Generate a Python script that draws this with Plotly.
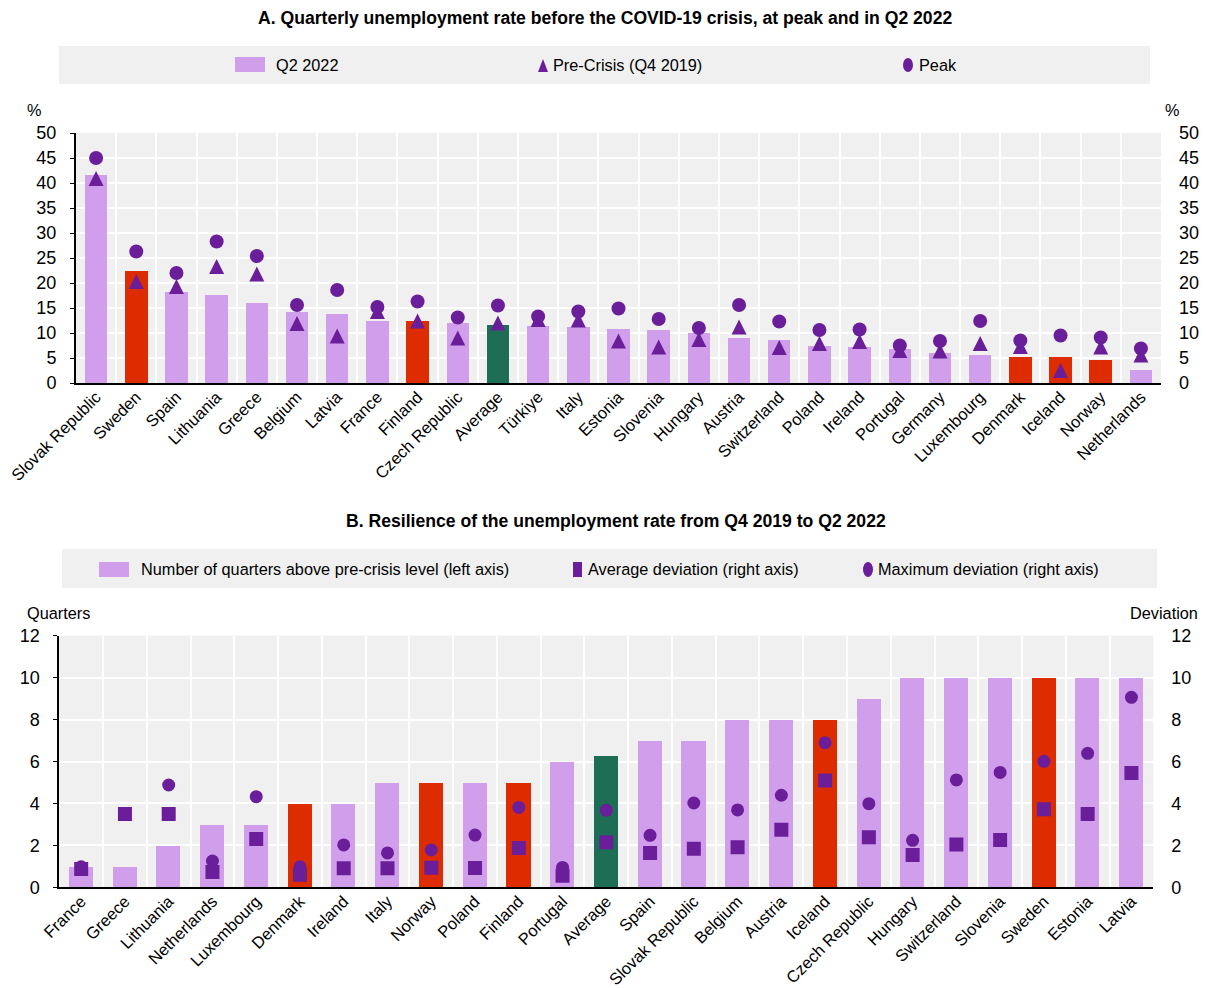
import plotly.graph_objects as go

W, H = 1206, 988
FONT = "Liberation Sans, Arial, sans-serif"

LILAC = "#D19EEC"
RED = "#DD2C00"
GREEN = "#1E6E56"
PURPLE = "#6A1E9A"
PANEL_BG = "#F0F0F0"

# ---- Panel A: quarterly unemployment rate (%) ----
a_countries = ["Slovak Republic", "Sweden", "Spain", "Lithuania", "Greece", "Belgium", "Latvia",
               "France", "Finland", "Czech Republic", "Average", "Türkiye", "Italy", "Estonia",
               "Slovenia", "Hungary", "Austria", "Switzerland", "Poland", "Ireland", "Portugal",
               "Germany", "Luxembourg", "Denmark", "Iceland", "Norway", "Netherlands"]
a_q2_2022 = [41.6, 22.4, 18.3, 17.7, 16.1, 14.3, 13.9, 12.4, 12.4, 12.1, 11.6, 11.5, 11.3, 10.9,
             10.7, 10.1, 9.0, 8.7, 7.5, 7.3, 6.8, 6.1, 5.7, 5.2, 5.2, 4.6, 2.6]
a_pre_crisis = [40.9, 20.3, 19.3, 23.3, 21.8, 11.9, 9.4, 14.3, 12.4, 9.0, 12.0, 12.7, 12.6, 8.4,
                7.2, 8.7, 11.2, 7.1, 7.9, 8.3, 6.5, 6.4, 7.9, 7.3, 2.5, 7.2, 5.6]
a_peak = [45.0, 26.3, 22.0, 28.3, 25.4, 15.6, 18.6, 15.2, 16.3, 13.1, 15.5, 13.3, 14.3, 14.9,
          12.8, 11.0, 15.6, 12.3, 10.6, 10.7, 7.5, 8.4, 12.4, 8.5, 9.5, 9.1, 6.9]
a_ticks = [0, 5, 10, 15, 20, 25, 30, 35, 40, 45, 50]

# ---- Panel B: resilience from Q4 2019 to Q2 2022 ----
b_countries = ["France", "Greece", "Lithuania", "Netherlands", "Luxembourg", "Denmark", "Ireland",
               "Italy", "Norway", "Poland", "Finland", "Portugal", "Average", "Spain",
               "Slovak Republic", "Belgium", "Austria", "Iceland", "Czech Republic", "Hungary",
               "Switzerland", "Slovenia", "Sweden", "Estonia", "Latvia"]
b_quarters = [1, 1, 2, 3, 3, 4, 4, 5, 5, 5, 5, 6, 6.3, 7, 7, 8, 8, 8, 9, 10, 10, 10, 10, 10, 10]
b_avg_dev = [0.87, 3.5, 3.5, 0.73, 2.3, 0.6, 0.91, 0.91, 0.93, 0.92, 1.87, 0.55, 2.15, 1.64,
             1.84, 1.91, 2.75, 5.09, 2.39, 1.54, 2.04, 2.25, 3.72, 3.5, 5.45]
b_max_dev = [0.98, 3.5, 4.88, 1.25, 4.32, 0.98, 2.02, 1.64, 1.78, 2.49, 3.81, 0.95, 3.67, 2.48,
             4.02, 3.69, 4.39, 6.9, 3.99, 2.24, 5.12, 5.48, 6.01, 6.39, 9.06]
b_ticks = [0, 2, 4, 6, 8, 10, 12]

nordics = {"Sweden", "Finland", "Denmark", "Iceland", "Norway"}


def bar_colours(names):
    out = []
    for n in names:
        if n == "Average":
            out.append(GREEN)
        elif n in nordics:
            out.append(RED)
        else:
            out.append(LILAC)
    return out


def px(x):
    return x / W


def py(y):
    return 1 - y / H


fig = go.Figure()

# Panel A traces (peak markers sit on the right-hand axis, which shares the 0-50 scale).
# The pre-crisis triangle is an upward-pointing arrowhead shifted so it is centred on its value.
fig.add_trace(go.Bar(x=a_countries, y=a_q2_2022, marker=dict(color=bar_colours(a_countries), line_width=0),
                     width=0.56, xaxis="x", yaxis="y", showlegend=False))
fig.add_trace(go.Scatter(x=a_countries, y=a_pre_crisis, mode="markers",
                         marker=dict(symbol="arrow-down", angle=180, size=15, standoff=7.5,
                                     color=PURPLE, line_width=0),
                         xaxis="x", yaxis="y", showlegend=False))
fig.add_trace(go.Scatter(x=a_countries, y=a_peak, mode="markers",
                         marker=dict(symbol="circle", size=14, color=PURPLE),
                         xaxis="x", yaxis="y2", showlegend=False))

# Panel B traces
fig.add_trace(go.Bar(x=b_countries, y=b_quarters, marker=dict(color=bar_colours(b_countries), line_width=0),
                     width=0.55, xaxis="x2", yaxis="y3", showlegend=False))
fig.add_trace(go.Scatter(x=b_countries, y=b_max_dev, mode="markers",
                         marker=dict(symbol="circle", size=13, color=PURPLE),
                         xaxis="x2", yaxis="y4", showlegend=False))
fig.add_trace(go.Scatter(x=b_countries, y=b_avg_dev, mode="markers",
                         marker=dict(symbol="square", size=14, color=PURPLE),
                         xaxis="x2", yaxis="y4", showlegend=False))

tick_font = dict(family=FONT, size=18, color="#000000")
cat_font = dict(family=FONT, size=16.5, color="#000000")

x_common = dict(type="category", tickson="boundaries", showgrid=True, gridcolor="white", gridwidth=2,
                showline=True, linecolor="black", linewidth=2, ticks="", tickangle=-45,
                tickfont=cat_font, fixedrange=True, automargin=False, ticklabelstandoff=-4)
y_left = dict(showgrid=True, gridcolor="white", gridwidth=2, zeroline=False, showline=True,
              linecolor="black", linewidth=2, ticks="outside", ticklen=4, tickcolor="black",
              tickfont=tick_font, ticklabelstandoff=10, automargin=False, fixedrange=True)
y_right = dict(showgrid=False, zeroline=False, showline=False, ticks="", tickfont=tick_font,
               side="right", ticklabelstandoff=17, automargin=False, fixedrange=True)

axA_x = [px(76), px(1161)]
axA_y = [py(383), py(133)]
axB_x = [px(59.3), px(1153.3)]
axB_y = [py(887.3), py(635.7)]

fig.update_layout(
    width=W, height=H,
    margin=dict(l=0, r=0, t=0, b=0, pad=0),
    paper_bgcolor="white",
    plot_bgcolor=PANEL_BG,
    bargap=0,
    font=dict(family=FONT, size=16, color="#000000"),
    xaxis=dict(domain=axA_x, anchor="y", range=[-0.5, len(a_countries) - 0.5], **x_common),
    yaxis=dict(domain=axA_y, anchor="x", range=[0, 50], tickvals=a_ticks, **y_left),
    yaxis2=dict(domain=axA_y, anchor="x", overlaying="y", range=[0, 50], tickvals=a_ticks, **y_right),
    xaxis2=dict(domain=axB_x, anchor="y3", range=[-0.5, len(b_countries) - 0.5], **x_common),
    yaxis3=dict(domain=axB_y, anchor="x2", range=[0, 12], tickvals=b_ticks, **y_left),
    yaxis4=dict(domain=axB_y, anchor="x2", overlaying="y3", range=[0, 12], tickvals=b_ticks, **y_right),
)

shapes = []
annotations = []


def text(x, y, s, size=16.3, bold=False, xanchor="left"):
    annotations.append(dict(x=px(x), y=py(y), xref="paper", yref="paper", text=f"<b>{s}</b>" if bold else s,
                            showarrow=False, xanchor=xanchor, yanchor="middle",
                            font=dict(family=FONT, size=size, color="#000000")))


# Titles
text(605, 18, "A. Quarterly unemployment rate before the COVID-19 crisis, at peak and in Q2 2022",
     size=17.6, bold=True, xanchor="center")
text(616, 521, "B. Resilience of the unemployment rate from Q4 2019 to Q2 2022",
     size=17.6, bold=True, xanchor="center")

# Axis unit labels
text(34, 110, "%", xanchor="center")
text(1172, 110, "%", xanchor="center")
text(58, 613, "Quarters", xanchor="center")
text(1164, 613, "Deviation", xanchor="center")

# Legend for panel A
shapes.append(dict(type="rect", xref="paper", yref="paper", x0=px(59), x1=px(1150), y0=py(84), y1=py(46),
                   fillcolor=PANEL_BG, line_width=0, layer="below"))
shapes.append(dict(type="rect", xref="paper", yref="paper", x0=px(235), x1=px(265), y0=py(72), y1=py(57),
                   fillcolor=LILAC, line_width=0))
shapes.append(dict(type="path", xref="paper", yref="paper",
                   path=f"M{px(538)},{py(72)} L{px(548)},{py(72)} L{px(543)},{py(59)} Z",
                   fillcolor=PURPLE, line_width=0))
shapes.append(dict(type="circle", xref="paper", yref="paper", x0=px(903), x1=px(913), y0=py(72), y1=py(58),
                   fillcolor=PURPLE, line_width=0))
text(274, 65, "Q2 2022")
text(551, 65, "Pre-Crisis (Q4 2019)")
text(917, 65, "Peak")

# Legend for panel B
shapes.append(dict(type="rect", xref="paper", yref="paper", x0=px(62), x1=px(1157), y0=py(588), y1=py(549),
                   fillcolor=PANEL_BG, line_width=0, layer="below"))
shapes.append(dict(type="rect", xref="paper", yref="paper", x0=px(99), x1=px(129), y0=py(577), y1=py(562),
                   fillcolor=LILAC, line_width=0))
shapes.append(dict(type="rect", xref="paper", yref="paper", x0=px(573), x1=px(582), y0=py(577), y1=py(562),
                   fillcolor=PURPLE, line_width=0))
shapes.append(dict(type="circle", xref="paper", yref="paper", x0=px(863), x1=px(873), y0=py(577), y1=py(562),
                   fillcolor=PURPLE, line_width=0))
text(139, 569, "Number of quarters above pre-crisis level (left axis)")
text(586, 569, "Average deviation (right axis)")
text(876, 569, "Maximum deviation (right axis)")

fig.update_layout(shapes=shapes, annotations=annotations)

fig.write_html("out.html")
